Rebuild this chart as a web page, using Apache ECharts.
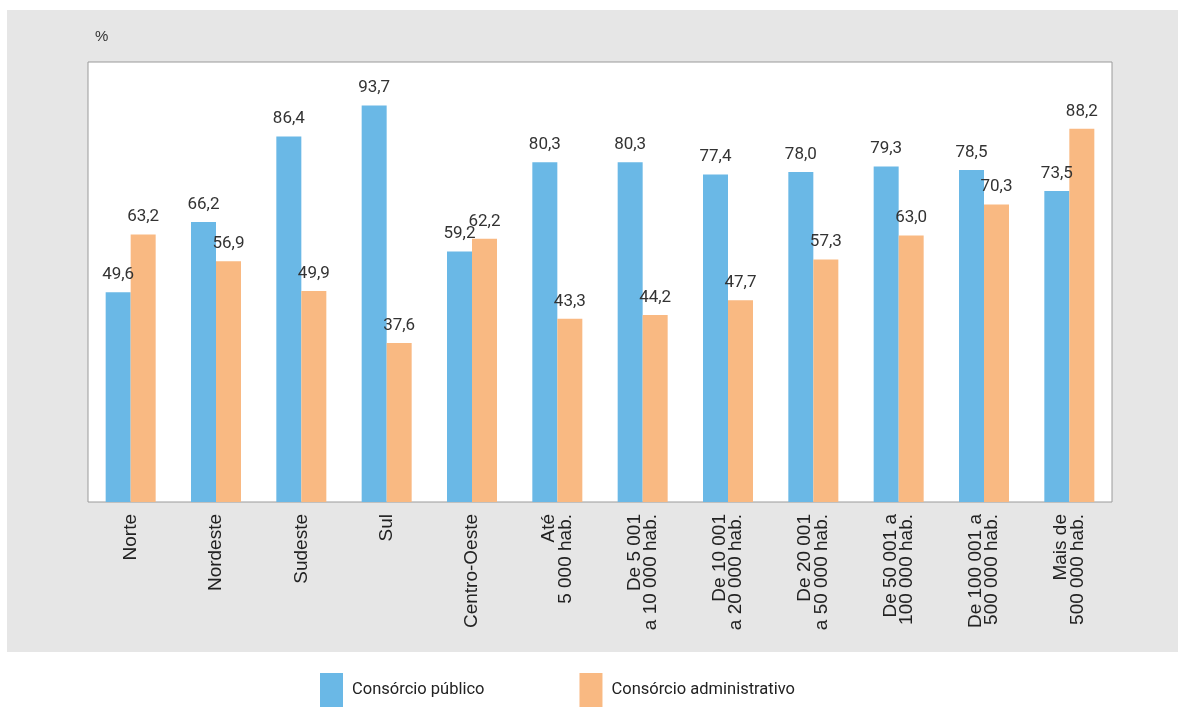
<!DOCTYPE html>
<html>
<head>
<meta charset="utf-8">
<script src="https://cdn.jsdelivr.net/npm/echarts@6/dist/echarts.min.js"></script>
<style>
  html, body { margin: 0; padding: 0; background: #ffffff; }
  #chart { width: 1178px; height: 707px; }
</style>
</head>
<body>
<div id="chart"></div>
<script>
// Categories: regions and municipality size classes
const categories = [
  'Norte', 'Nordeste', 'Sudeste', 'Sul', 'Centro-Oeste',
  'Até\n5 000 hab.',
  'De 5 001\na 10 000 hab.',
  'De 10 001\na 20 000 hab.',
  'De 20 001\na 50 000 hab.',
  'De 50 001 a\n100 000 hab.',
  'De 100 001 a\n500 000 hab.',
  'Mais de\n500 000 hab.'
];

// Percentages per category
const consorcioPublico = [49.6, 66.2, 86.4, 93.7, 59.2, 80.3, 80.3, 77.4, 78.0, 79.3, 78.5, 73.5];
const consorcioAdministrativo = [63.2, 56.9, 49.9, 37.6, 62.2, 43.3, 44.2, 47.7, 57.3, 63.0, 70.3, 88.2];

const seriesNames = ['Consórcio público', 'Consórcio administrativo'];
const unitLabel = '%';

const BLUE = '#6ab8e6';
const ORANGE = '#f9b982';

const fmt = v => v.toFixed(1).replace('.', ',');

const chart = echarts.init(document.getElementById('chart'), null, { renderer: 'canvas' });

const valueLabel = {
  show: true,
  position: 'top',
  distance: 9,
  fontFamily: 'Roboto, "Liberation Sans", Arial, sans-serif',
  fontSize: 17,
  color: '#333333',
  formatter: p => fmt(p.value)
};

chart.setOption({
  backgroundColor: '#ffffff',
  animation: false,
  graphic: [
    {
      type: 'rect',
      z: -10,
      silent: true,
      shape: { x: 7, y: 10, width: 1171, height: 642 },
      style: { fill: '#e6e6e6' }
    },
    {
      type: 'text',
      left: 95,
      top: 29,
      style: {
        text: unitLabel,
        fontFamily: '"Liberation Sans", Arial, sans-serif',
        fontSize: 15,
        fill: '#333333'
      }
    }
  ],
  grid: {
    left: 88,
    top: 62,
    width: 1024,
    height: 440,
    show: true,
    backgroundColor: '#ffffff',
    borderColor: '#9a9a9a',
    borderWidth: 1,
    containLabel: false
  },
  legend: {
    data: seriesNames,
    left: 320,
    top: 673,
    padding: 0,
    itemWidth: 23,
    itemHeight: 34,
    itemGap: 95,
    icon: 'rect',
    textStyle: {
      fontFamily: 'Roboto, "Liberation Sans", Arial, sans-serif',
      fontSize: 16.5,
      color: '#222222',
      padding: [4, 0, 0, 4]
    }
  },
  xAxis: {
    type: 'category',
    data: categories,
    axisLine: { show: false },
    axisTick: { show: false },
    axisLabel: {
      rotate: 90,
      margin: 12,
      interval: 0,
      fontFamily: '"Liberation Sans", Arial, sans-serif',
      fontSize: 19,
      lineHeight: 16.5,
      color: '#222222',
      align: 'right'
    }
  },
  yAxis: {
    type: 'value',
    min: 0,
    max: 104,
    show: false,
    splitLine: { show: false }
  },
  series: [
    {
      name: seriesNames[0],
      type: 'bar',
      data: consorcioPublico,
      barWidth: 25,
      barGap: '0%',
      itemStyle: { color: BLUE },
      label: valueLabel
    },
    {
      name: seriesNames[1],
      type: 'bar',
      data: consorcioAdministrativo,
      barWidth: 25,
      barGap: '0%',
      itemStyle: { color: ORANGE },
      label: valueLabel
    }
  ]
});
</script>
</body>
</html>
